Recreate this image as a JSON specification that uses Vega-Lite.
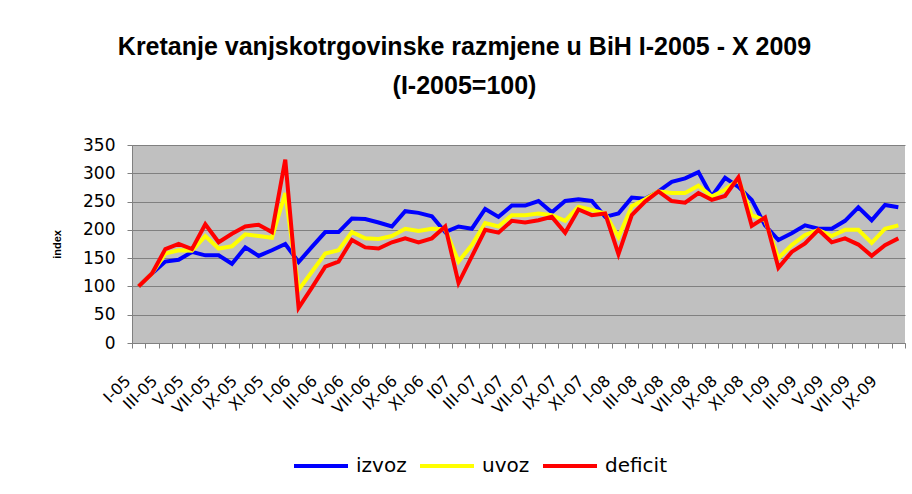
{
  "$schema": "https://vega.github.io/schema/vega-lite/v6.json",
  "width": 773,
  "height": 198,
  "autosize": {"type": "none"},
  "padding": {"left": 132, "top": 145, "right": 7, "bottom": 151},
  "background": "white",
  "title": {
    "text": ["Kretanje vanjskotrgovinske razmjene u BiH I-2005 - X 2009", "(I-2005=100)"],
    "font": "Liberation Sans",
    "fontSize": 25,
    "fontWeight": "bold",
    "lineHeight": 39,
    "anchor": "middle",
    "dx": -54,
    "offset": 37,
    "color": "black"
  },
  "data": {
    "values": [
      {"m": "I-05", "izvoz": 100, "uvoz": 100, "deficit": 100},
      {"m": "II-05", "izvoz": 123, "uvoz": 123, "deficit": 123},
      {"m": "III-05", "izvoz": 144, "uvoz": 158, "deficit": 166},
      {"m": "IV-05", "izvoz": 147, "uvoz": 164, "deficit": 175},
      {"m": "V-05", "izvoz": 161, "uvoz": 163, "deficit": 166},
      {"m": "VI-05", "izvoz": 155, "uvoz": 189, "deficit": 210},
      {"m": "VII-05", "izvoz": 155, "uvoz": 167, "deficit": 178},
      {"m": "VIII-05", "izvoz": 140, "uvoz": 171, "deficit": 193},
      {"m": "IX-05", "izvoz": 169, "uvoz": 192, "deficit": 206},
      {"m": "X-05", "izvoz": 154, "uvoz": 189, "deficit": 209},
      {"m": "XI-05", "izvoz": 164, "uvoz": 186, "deficit": 196},
      {"m": "XII-05", "izvoz": 175, "uvoz": 265, "deficit": 324},
      {"m": "I-06", "izvoz": 143, "uvoz": 94, "deficit": 62},
      {"m": "II-06", "izvoz": 170, "uvoz": 126, "deficit": 98},
      {"m": "III-06", "izvoz": 196, "uvoz": 158, "deficit": 135},
      {"m": "IV-06", "izvoz": 196, "uvoz": 164, "deficit": 144},
      {"m": "V-06", "izvoz": 220, "uvoz": 196, "deficit": 182},
      {"m": "VI-06", "izvoz": 219, "uvoz": 185, "deficit": 169},
      {"m": "VII-06", "izvoz": 213, "uvoz": 184, "deficit": 167},
      {"m": "VIII-06", "izvoz": 206, "uvoz": 189, "deficit": 178},
      {"m": "IX-06", "izvoz": 233, "uvoz": 202, "deficit": 185},
      {"m": "X-06", "izvoz": 230, "uvoz": 198, "deficit": 178},
      {"m": "XI-06", "izvoz": 224, "uvoz": 202, "deficit": 185},
      {"m": "XII-06", "izvoz": 196, "uvoz": 201, "deficit": 206},
      {"m": "I07", "izvoz": 206, "uvoz": 144, "deficit": 106},
      {"m": "II-07", "izvoz": 202, "uvoz": 173, "deficit": 153},
      {"m": "III-07", "izvoz": 237, "uvoz": 212, "deficit": 200},
      {"m": "IV-07", "izvoz": 223, "uvoz": 206, "deficit": 195},
      {"m": "V-07", "izvoz": 243, "uvoz": 226, "deficit": 216},
      {"m": "VI-07", "izvoz": 243, "uvoz": 226, "deficit": 213},
      {"m": "VII-07", "izvoz": 251, "uvoz": 229, "deficit": 217},
      {"m": "VIII-07", "izvoz": 231, "uvoz": 226, "deficit": 223},
      {"m": "IX-07", "izvoz": 251, "uvoz": 216, "deficit": 195},
      {"m": "X-07", "izvoz": 254, "uvoz": 241, "deficit": 236},
      {"m": "XI-07", "izvoz": 251, "uvoz": 235, "deficit": 226},
      {"m": "XII-07", "izvoz": 223, "uvoz": 229, "deficit": 229},
      {"m": "I-08", "izvoz": 229, "uvoz": 187, "deficit": 157},
      {"m": "II-08", "izvoz": 257, "uvoz": 242, "deficit": 226},
      {"m": "III-08", "izvoz": 255, "uvoz": 254, "deficit": 250},
      {"m": "IV-08", "izvoz": 268, "uvoz": 268, "deficit": 268},
      {"m": "V-08", "izvoz": 285, "uvoz": 265, "deficit": 251},
      {"m": "VI-08", "izvoz": 291, "uvoz": 265, "deficit": 248},
      {"m": "VII-08", "izvoz": 302, "uvoz": 278, "deficit": 265},
      {"m": "VIII-08", "izvoz": 259, "uvoz": 259, "deficit": 253},
      {"m": "IX-08", "izvoz": 292, "uvoz": 271, "deficit": 260},
      {"m": "X-08", "izvoz": 276, "uvoz": 289, "deficit": 293},
      {"m": "XI-08", "izvoz": 253, "uvoz": 226, "deficit": 207},
      {"m": "XII-08", "izvoz": 208, "uvoz": 217, "deficit": 222},
      {"m": "I-09", "izvoz": 182, "uvoz": 150, "deficit": 133},
      {"m": "II-09", "izvoz": 194, "uvoz": 173, "deficit": 161},
      {"m": "III-09", "izvoz": 208, "uvoz": 191, "deficit": 176},
      {"m": "IV-09", "izvoz": 202, "uvoz": 200, "deficit": 200},
      {"m": "V-09", "izvoz": 202, "uvoz": 189, "deficit": 178},
      {"m": "VI-09", "izvoz": 216, "uvoz": 200, "deficit": 185},
      {"m": "VII-09", "izvoz": 240, "uvoz": 200, "deficit": 174},
      {"m": "VIII-09", "izvoz": 217, "uvoz": 177, "deficit": 154},
      {"m": "IX-09", "izvoz": 244, "uvoz": 202, "deficit": 173},
      {"m": "X-09", "izvoz": 240, "uvoz": 208, "deficit": 185}
    ]
  },
  "transform": [
    {"fold": ["izvoz", "uvoz", "deficit"], "as": ["serija", "vrijednost"]}
  ],
  "mark": {"type": "line", "strokeWidth": 4, "strokeJoin": "miter"},
  "encoding": {
    "x": {
      "field": "m",
      "type": "ordinal",
      "sort": null,
      "scale": {"paddingInner": 0, "paddingOuter": 0},
      "axis": {
        "title": null,
        "labelAngle": -45,
        "labelAlign": "right",
        "labelBaseline": "middle",
        "labelFont": "DejaVu Sans",
        "labelFontSize": 16,
        "labelColor": "black",
        "labelPadding": 30,
        "labelOffset": -11,
        "labelExpr": "datum.value == 'I07' || indexof(['I','III','V','VII','IX','XI'], split(datum.value, '-')[0]) >= 0 ? datum.value : ''",
        "tickBand": "extent",
        "tickColor": "#808080",
        "tickSize": 5,
        "domainColor": "#808080",
        "labelOverlap": false,
        "grid": false
      }
    },
    "y": {
      "field": "vrijednost",
      "type": "quantitative",
      "scale": {"domain": [0, 350], "nice": false},
      "axis": {
        "title": "index",
        "titleFont": "Liberation Sans",
        "titleFontSize": 11,
        "titleFontWeight": "bold",
        "titleColor": "black",
        "titlePadding": 20,
        "values": [0, 50, 100, 150, 200, 250, 300, 350],
        "labelFont": "DejaVu Sans",
        "labelFontSize": 17,
        "labelColor": "black",
        "labelPadding": 12,
        "tickColor": "#808080",
        "tickSize": 5,
        "domainColor": "#808080",
        "gridColor": "#808080",
        "gridOpacity": 1
      }
    },
    "color": {
      "field": "serija",
      "type": "nominal",
      "sort": ["izvoz", "uvoz", "deficit"],
      "scale": {"domain": ["izvoz", "uvoz", "deficit"], "range": ["#0000FF", "#FFFF00", "#FF0000"]},
      "legend": {
        "title": null,
        "orient": "none",
        "legendX": 160,
        "legendY": 292,
        "direction": "horizontal",
        "symbolType": "stroke",
        "symbolSize": 2916,
        "symbolStrokeWidth": 4,
        "labelFont": "DejaVu Sans",
        "labelFontSize": 20,
        "labelColor": "black",
        "labelOffset": 6,
        "columnPadding": 5
      }
    }
  },
  "config": {
    "view": {"fill": "#C0C0C0", "stroke": null}
  }
}
